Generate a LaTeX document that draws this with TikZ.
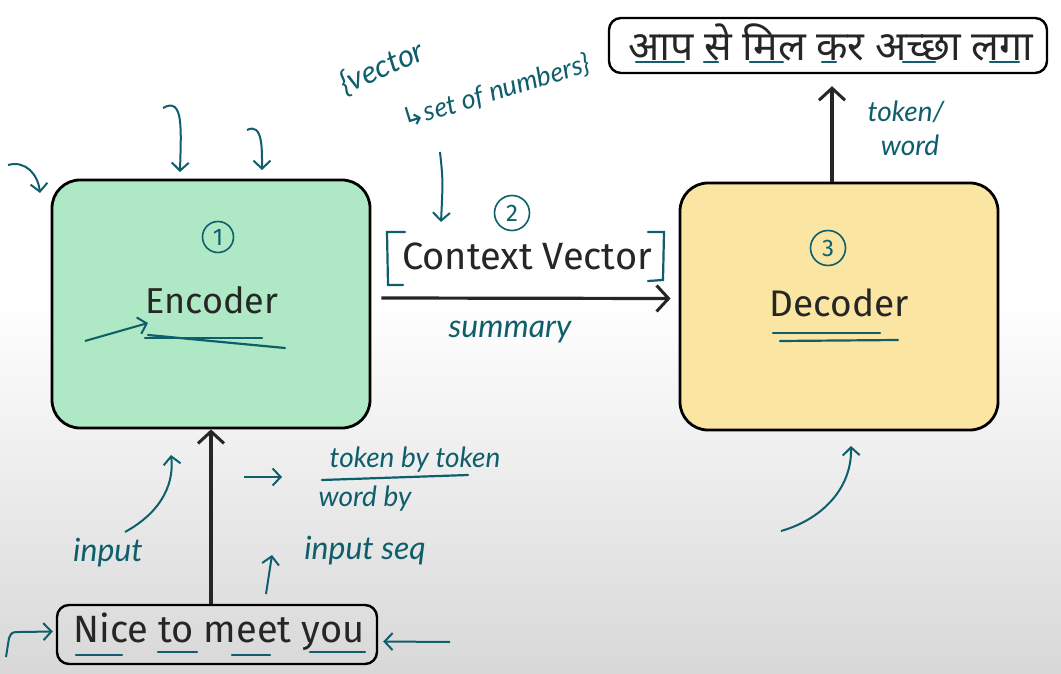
\documentclass[tikz,border=0pt]{standalone}
\usepackage{fontspec}
\setmainfont{Fira Sans}
\newfontfamily\hindi[Script=Devanagari]{Noto Sans}
\newfontfamily\notefont{Lato}
\newfontfamily\symfont{DejaVu Sans}
\usetikzlibrary{arrows.meta,shapes.misc}
\definecolor{tealink}{HTML}{0E5F6B}
\definecolor{encfill}{HTML}{AEE8C4}
\definecolor{decfill}{HTML}{FBE5A2}
\definecolor{bgbottom}{HTML}{D8D8D8}
\tikzset{
  bigbox/.style={draw=black, line width=2.8pt, rounded corners=28pt, inner sep=0pt},
  seqbox/.style={draw=black, line width=2.4pt, rounded corners=12pt, inner sep=0pt},
  boxtext/.style={font=\fontsize{36}{36}\selectfont, text=black!85},
  num/.style={circle, draw=tealink, line width=1.6pt, inner sep=0pt, text=tealink, font=\fontsize{24}{24}\selectfont},
  note/.style={text=tealink, font=\notefont\itshape\fontsize{28}{28}\selectfont},
  blackarrow/.style={draw=black!85, line width=3.2pt, -{Straight Barb[length=12pt,width=26pt,line width=3pt]}},
  tealarrow/.style={draw=tealink, line width=2pt, -{Straight Barb[length=8pt,width=17pt,line width=2pt]}},
  tealline/.style={draw=tealink, line width=2.2pt, line cap=round},
}
\begin{document}
\begin{tikzpicture}[x=1pt,y=-1pt]
% background
\useasboundingbox (0,0) rectangle (1061,674);
\fill[white] (0,0) rectangle (1061,300);
\shade[top color=white, bottom color=bgbottom] (0,299) rectangle (1061,674);

% main boxes
\node[bigbox, fill=encfill, minimum width=318, minimum height=248] (enc) at (211,304) {};
\node[bigbox, fill=decfill, minimum width=318, minimum height=247] (dec) at (839,306.5) {};
\node[seqbox, minimum width=438, minimum height=55] (hin) at (828,45.5) {};
\node[seqbox, minimum width=320, minimum height=59] (inp) at (217,634.5) {};

% box texts
\node[boxtext] (enctext) at (212,300) {Encoder};
\node[boxtext, font=\fontsize{37}{37}\selectfont] (dectext) at (839,303) {Decoder};
\node[boxtext, font=\fontsize{38}{38}\selectfont] (ctx) at (527,256) {Context Vector};
\node[boxtext, font=\fontsize{38}{38}\selectfont] (inptext) at (219,632) {Nice to meet you};
\node[text=black!85, font=\hindi\fontsize{41}{41}\selectfont] (hintext) at (831,42) {आप से मिल कर अच्छा लगा};

% numbers
\node[num, minimum size=31] (n1) at (218,237) {1};
\node[num, minimum size=35] (n2) at (512,213) {2};
\node[num, minimum size=35] (n3) at (828,248) {3};

% main connectors
\draw[blackarrow] ([xshift=10pt,yshift=6pt]enc.east) -- ([xshift=-8pt,yshift=8pt]dec.west);
\draw[blackarrow] (inp.north -| enc.south) -- (enc.south);
\draw[blackarrow] ([xshift=-7pt]dec.north) -- ([xshift=4pt,yshift=-12pt]hin.south);

% context vector brackets
\draw[tealline] (405,232) -- (387,232) -- (388,285) -- (403,285);
\draw[tealline] (648,232) -- (664,232) -- (663,280) -- (648,281);
\draw[tealarrow] (440,152) .. controls (443,180) .. (441,222);

% vector / set of numbers note
\node[note, rotate=24, font=\notefont\itshape\fontsize{31}{31}\selectfont] (vecnote) at (382,68) {\{vector};
\node[note, rotate=17, font=\notefont\itshape\fontsize{27}{27}\selectfont] (setnote) at (496,92) {{\symfont ↳}set of numbers\}};

% summary
\node[note, font=\notefont\itshape\fontsize{32}{32}\selectfont] (summ) at (510,332) {summary};

% encoder annotations
\draw[tealline] (145,338) -- (262,338);
\draw[tealline] (148,335) -- (285,348);
\draw[tealarrow] (85,341) -- (148,323);
\draw[tealarrow] (163,108) .. controls (184,96) and (181,130) .. (180,172);
\draw[tealarrow] (247,130) .. controls (263,122) and (262,150) .. (262,170);
\draw[tealarrow] (8,165) .. controls (26,160) and (38,175) .. (40,193);

% decoder annotations
\draw[tealline] (773,333) -- (880,333);
\draw[tealline] (780,341) -- (898,340);
\draw[tealarrow] (781,531) .. controls (820,520) and (852,490) .. (851,446);
\node[note] (tok1) at (906,112) {token/};
\node[note] (tok2) at (910,145) {word};

% hindi underlines
\foreach \a/\b in {636/684, 704/718, 750/783, 822/836, 903/935, 990/1019}
  \draw[tealline] (\a,62) -- (\b,62);

% input annotations
\node[note, font=\notefont\itshape\fontsize{32}{32}\selectfont] (inputnote) at (108,553) {input};
\draw[tealarrow] (125,532) .. controls (165,510) and (174,480) .. (171,455);
\draw[tealarrow] (244,477) -- (282,477);
\node[note] (tbt) at (415,460) {token by token};
\draw[tealline] (322,480) -- (468,475);
\node[note] (wby) at (365,499) {word by};
\draw[tealarrow] (266,594) -- (272,555);
\node[note, font=\notefont\itshape\fontsize{32}{32}\selectfont] (iseq) at (365,551) {input seq};

% input box underlines and arrows
\draw[tealline] (76,655) -- (122,655);
\draw[tealline] (158,652) -- (197,652);
\draw[tealline] (232,655) -- (270,655);
\draw[tealline] (310,652) -- (365,652);
\draw[tealarrow] (6,657) -- (9,638) .. controls (12,632) .. (20,632) -- ([xshift=-3pt,yshift=3pt]inp.west);
\draw[tealarrow] (450,642) -- ([xshift=5pt,yshift=-7pt]inp.east);
\end{tikzpicture}
\end{document}
